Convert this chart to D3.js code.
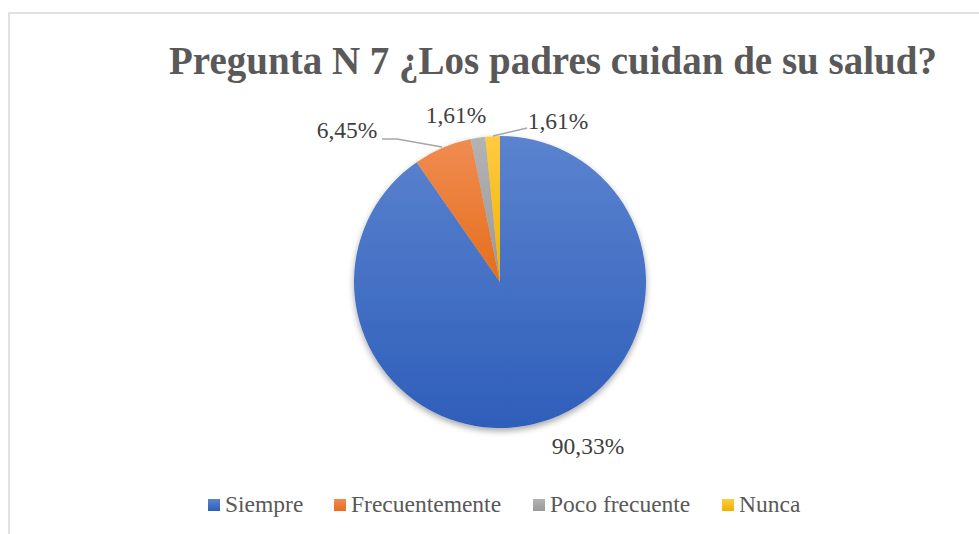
<!DOCTYPE html>
<html><head><meta charset="utf-8">
<script src="https://cdn.jsdelivr.net/npm/d3@7"></script>
<style>body{margin:0;background:#fff}svg{display:block}</style>
</head><body>
<svg id="c" width="979" height="534"></svg>
<script>
const categories = ["Siempre", "Frecuentemente", "Poco frecuente", "Nunca"];
const values = [90.33, 6.45, 1.61, 1.61];
const labels = ["90,33%", "6,45%", "1,61%", "1,61%"];
const colorsTop = ["#5B83CF", "#F08C52", "#B3B3B3", "#FFCB40"];
const colorsBottom = ["#2E5EBA", "#E56E1B", "#999999", "#F0B200"];
const title = "Pregunta N 7 ¿Los padres cuidan de su salud?";

const svg = d3.select("#c");
const font = "'Liberation Serif','Times New Roman',serif";
const cx = 500, cy = 282, R = 146;

// frame
svg.append("rect").attr("x", 9).attr("y", 13).attr("width", 980).attr("height", 540)
  .attr("fill", "#fff").attr("stroke", "#d9d9d9").attr("stroke-width", 1.5);

const defs = svg.append("defs");
categories.forEach((c, i) => {
  const g = defs.append("linearGradient").attr("id", "g" + i)
    .attr("x1", 0).attr("y1", 0).attr("x2", 0).attr("y2", 1);
  g.append("stop").attr("offset", "0%").attr("stop-color", colorsTop[i]);
  g.append("stop").attr("offset", "100%").attr("stop-color", colorsBottom[i]);
});
const f = defs.append("filter").attr("id", "sh").attr("x", "-20%").attr("y", "-20%").attr("width", "140%").attr("height", "140%");
f.append("feDropShadow").attr("dx", 0).attr("dy", 3).attr("stdDeviation", 3).attr("flood-color", "#000").attr("flood-opacity", 0.35);

svg.append("text").attr("x", 553).attr("y", 74).attr("text-anchor", "middle")
  .attr("font-family", font).attr("font-weight", "bold").attr("font-size", 39)
  .attr("fill", "#595959").text(title);

const pie = d3.pie().sort(null).value(d => d)(values);
const arc = d3.arc().innerRadius(0).outerRadius(R);
const gP = svg.append("g").attr("transform", `translate(${cx},${cy})`);
gP.append("g").attr("filter", "url(#sh)").selectAll("path").data(pie).join("path")
  .attr("d", arc).attr("fill", (d, i) => `url(#g${i})`).attr("stroke", "none");

// label layout (baseline positions relative to pie center)
const labelPos = [[88, 172], [-153, -144], [-44, -159], [58, -153]];
const leaders = [null, [[-118, -143], [-103, -143], [-58, -135]], null, [[-7, -146], [27, -154]]];
pie.forEach((d, i) => {
  if (leaders[i]) {
    gP.append("polyline").attr("points", leaders[i].map(p => p.join(",")).join(" "))
      .attr("fill", "none").attr("stroke", "#a6a6a6").attr("stroke-width", 1.3);
  }
  gP.append("text").attr("x", labelPos[i][0]).attr("y", labelPos[i][1])
    .attr("text-anchor", "middle")
    .attr("font-family", font).attr("font-size", 23.5).attr("fill", "#404040").text(labels[i]);
});

// legend
const legX = [208, 334, 533, 722];
const lg = svg.append("g");
categories.forEach((c, i) => {
  lg.append("rect").attr("x", legX[i]).attr("y", 499).attr("width", 12).attr("height", 12).attr("fill", `url(#g${i})`);
  lg.append("text").attr("x", legX[i] + 17).attr("y", 512)
    .attr("font-family", font).attr("font-size", 23.5).attr("fill", "#595959").text(c);
});
</script>
</body></html>
